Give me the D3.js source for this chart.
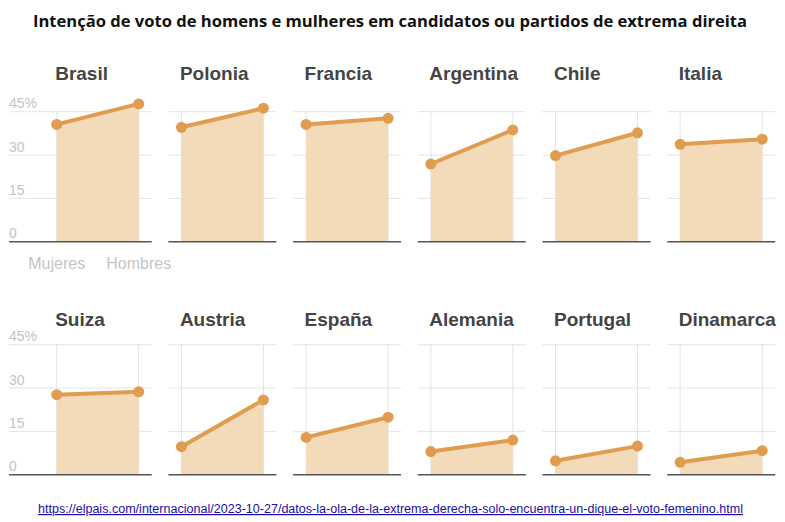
<!DOCTYPE html>
<html><head><meta charset="utf-8">
<script src="https://cdn.jsdelivr.net/npm/d3@7"></script>
<style>body{margin:0;background:#fff}svg{display:block}</style>
</head><body>
<svg id="chart" width="785" height="522"></svg>
<script>
const title = "Intenção de voto de homens e mulheres em candidatos ou partidos de extrema direita";
const source = "https://elpais.com/internacional/2023-10-27/datos-la-ola-de-la-extrema-derecha-solo-encuentra-un-dique-el-voto-femenino.html";
const countries = ["Brasil","Polonia","Francia","Argentina","Chile","Italia","Suiza","Austria","España","Alemania","Portugal","Dinamarca"];
const mujeres = [40.6,39.6,40.6,26.9,29.8,33.7,27.7,9.7,12.9,8.0,4.8,4.3];
const hombres = [47.7,46.2,42.7,38.7,37.7,35.5,28.7,25.9,19.9,12.0,9.9,8.3];
const groups = ["Mujeres","Hombres"];
const yTicks = [0,15,30,45];

const svg = d3.select("#chart");
const LINE = "#e09d4f", FILL = "#f3dab9", GRID = "#e4e4e4", AXIS = "#555", LBL = "#c4c4c4";

svg.append("text").attr("x",33).attr("y",27)
  .attr("font-family","'Open Sans', sans-serif").attr("font-weight",700).attr("font-size",16.5)
  .attr("textLength",714).attr("lengthAdjust","spacingAndGlyphs")
  .attr("fill","#111").text(title);

const rows = [{base:241.7, titleY:80},{base:474.7, titleY:326}];
const col0 = 56.7, step = 124.7, inner = 82;

countries.forEach((c,i)=>{
  const r = Math.floor(i/6), k = i%6;
  const row = rows[r];
  const x0 = col0 + k*step;
  const x = d3.scalePoint().domain(groups).range([x0, x0+inner]);
  const y = d3.scaleLinear().domain([0,45]).range([row.base, row.base-130]);
  const g = svg.append("g");
  const gl = k===0 ? 9 : x0-13, gr = x0+inner+13;
  g.selectAll("line.h").data(yTicks.slice(1)).join("line")
    .attr("x1",gl).attr("x2",gr).attr("y1",d=>y(d)).attr("y2",d=>y(d))
    .attr("stroke",GRID).attr("stroke-width",1);
  g.selectAll("line.v").data(groups).join("line")
    .attr("x1",d=>x(d)).attr("x2",d=>x(d)).attr("y1",y(45)).attr("y2",y(0))
    .attr("stroke",GRID).attr("stroke-width",1);
  const vals = [mujeres[i], hombres[i]];
  const pts = groups.map((gname,j)=>({g:gname,v:vals[j]}));
  g.append("path").datum(pts)
    .attr("d", d3.area().x(d=>x(d.g)).y0(y(0)).y1(d=>y(d.v)))
    .attr("fill",FILL);
  g.append("line").attr("x1",gl).attr("x2",gr).attr("y1",y(0)).attr("y2",y(0))
    .attr("stroke",AXIS).attr("stroke-width",1.6);
  g.append("path").datum(pts)
    .attr("d", d3.line().x(d=>x(d.g)).y(d=>y(d.v)))
    .attr("fill","none").attr("stroke",LINE).attr("stroke-width",4);
  g.selectAll("circle").data(pts).join("circle")
    .attr("cx",d=>x(d.g)).attr("cy",d=>y(d.v)).attr("r",5.5).attr("fill",LINE);
  g.append("text").attr("x",x0-1.5).attr("y",row.titleY)
    .attr("font-family","'Liberation Sans', Arial, sans-serif").attr("font-weight",700)
    .attr("font-size",19).attr("fill","#444").text(c);
  if(k===0){
    g.selectAll("text.yl").data(yTicks).join("text")
      .attr("x",9).attr("y",d=>y(d)-3.5)
      .attr("font-family","'Liberation Sans', Arial, sans-serif").attr("font-size",14)
      .attr("fill",LBL).text(d=>d===45?"45%":d);
    if(r===0){
      g.selectAll("text.xl").data(groups).join("text")
        .attr("x",d=>x(d)).attr("y",268.5).attr("text-anchor","middle")
        .attr("font-family","'Liberation Sans', Arial, sans-serif").attr("font-size",16)
        .attr("fill",LBL).text(d=>d);
    }
  }
});

svg.append("text").attr("x",38).attr("y",513)
  .attr("font-family","'Liberation Sans Narrow','Liberation Sans', sans-serif").attr("font-size",12)
  .attr("textLength",705).attr("lengthAdjust","spacingAndGlyphs")
  .attr("fill","#1a0dab").attr("text-decoration","underline").text(source);
</script>
</body></html>
